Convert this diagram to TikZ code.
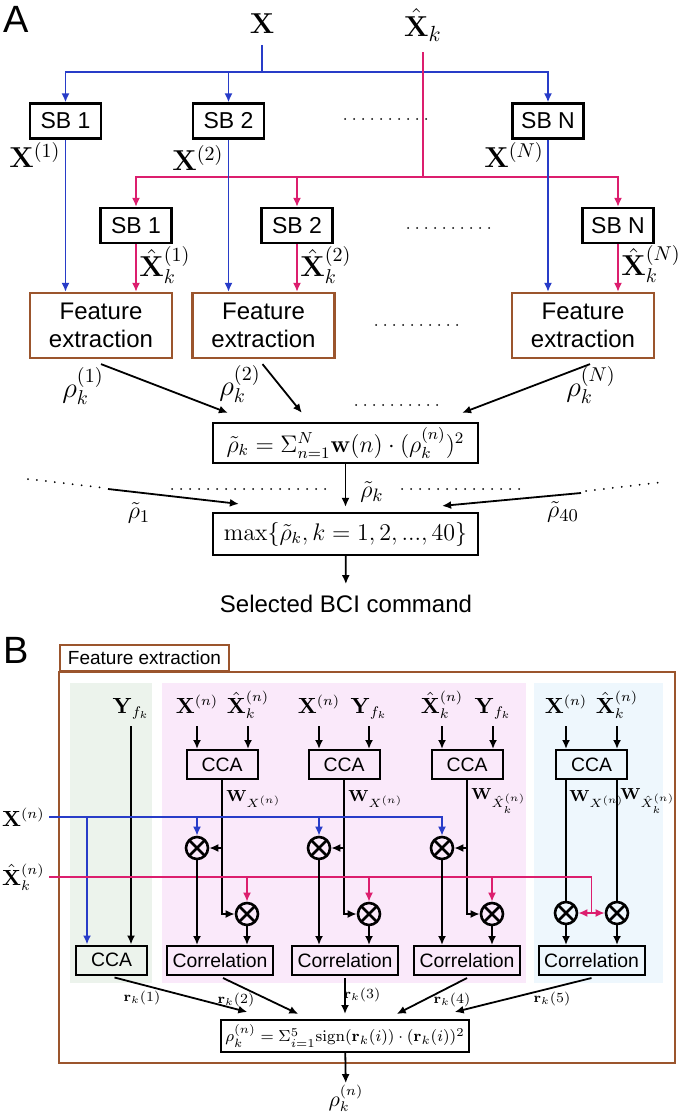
\documentclass[tikz,border=0pt]{standalone}
\usepackage[no-math]{fontspec}
\setmainfont{Liberation Sans}
\usetikzlibrary{arrows.meta,positioning}

\definecolor{sigblue}{RGB}{40,60,200}
\definecolor{sigpink}{RGB}{220,30,110}
\definecolor{febrown}{RGB}{155,85,45}
\definecolor{bggreen}{RGB}{236,243,236}
\definecolor{bgpink}{RGB}{250,233,250}
\definecolor{bgblue}{RGB}{238,247,253}

\tikzset{
  >={Latex[length=4.5pt,width=4pt]},
  wire/.style={line width=0.9pt},
  sbbox/.style={draw,line width=1.1pt,minimum width=35.5pt,minimum height=17.5pt,inner sep=1pt,font=\fontsize{11.5}{13}\selectfont},
  febox/.style={draw=febrown,line width=1.1pt,minimum width=71pt,minimum height=32.5pt,inner sep=1pt,align=center,font=\fontsize{12}{14}\selectfont},
  mathbox/.style={draw,line width=1.1pt,inner sep=1pt,minimum width=132.5pt,font=\fontsize{12}{14}\selectfont},
  biglab/.style={font=\fontsize{15}{17}\selectfont},
  lab/.style={font=\fontsize{14}{16}\selectfont},
  rholab/.style={font=\fontsize{13}{15}\selectfont},
  tag/.style={font=\fontsize{19}{21}\selectfont},
  ccabox/.style={draw,line width=1pt,minimum width=35.5pt,minimum height=14.5pt,inner sep=1pt,font=\fontsize{9.7}{11}\selectfont},
  corrbox/.style={ccabox,minimum width=53pt},
  mult/.style={circle,draw,line width=1.3pt,minimum size=11pt,inner sep=0pt,
    path picture={\draw[line width=1.3pt] (path picture bounding box.north west) -- (path picture bounding box.south east)
      (path picture bounding box.south west) -- (path picture bounding box.north east);}},
  inlab/.style={inner sep=0.5pt,font=\fontsize{10.5}{12}\selectfont},
  wlab/.style={anchor=west,inner sep=0pt,font=\fontsize{8}{9}\selectfont},
  rlab/.style={inner sep=1pt,font=\fontsize{7.5}{9}\selectfont},
  dotrow/.style={line width=1pt,line cap=round,dash pattern=on 0pt off 4.5pt},
}

\begin{document}
\begin{tikzpicture}[x=0.5pt,y=-0.5pt]
\useasboundingbox (0,0) rectangle (679,1112);

% ---------------- A ----------------
\node[tag] (tagA) at (16,19) {A};
\node[biglab] (sx) at (262,24) {$\mathbf{X}$};
\node[biglab] (sxh) at (423,25) {$\hat{\mathbf{X}}_k$};
\coordinate (bsplit) at (262,72);
\coordinate (psplit) at (423,177);

\node[sbbox] (sb1) at (65.5,121) {SB 1};
\node[sbbox] (sb2) at (228.5,121) {SB 2};
\node[sbbox] (sbn) at (548,121) {SB N};
\node[sbbox] (sbh1) at (136,225.5) {SB 1};
\node[sbbox] (sbh2) at (297,225.5) {SB 2};
\node[sbbox] (sbhn) at (618,225.5) {SB N};

\node[febox] (fe1) at (101,325.5) {Feature\\extraction};
\node[febox] (fe2) at (263.5,325.5) {Feature\\extraction};
\node[febox] (fen) at (583,325.5) {Feature\\extraction};

\draw[wire,sigblue,shorten <=2pt] (sx) -- (bsplit);
\draw[wire,sigblue,->] (bsplit) -| (sb1);
\draw[wire,sigblue,->] (bsplit) -| (sb2);
\draw[wire,sigblue,->] (bsplit) -| (sbn);
\draw[wire,sigpink,shorten <=2pt] (sxh) -- (psplit);
\draw[wire,sigpink,->] (psplit) -| (sbh1);
\draw[wire,sigpink,->] (psplit) -| (sbh2);
\draw[wire,sigpink,->] (psplit) -| (sbhn);

\draw[wire,sigblue,->] (sb1) -- (sb1 |- fe1.north);
\draw[wire,sigblue,->] (sb2) -- (sb2 |- fe2.north);
\draw[wire,sigblue,->] (sbn) -- (sbn |- fen.north);
\draw[wire,sigpink,->] (sbh1) -- (sbh1 |- fe1.north);
\draw[wire,sigpink,->] (sbh2) -- (sbh2 |- fe2.north);
\draw[wire,sigpink,->] (sbhn) -- (sbhn |- fen.north);

\node[lab] (lx1) at (35,155) {$\mathbf{X}^{(1)}$};
\node[lab] (lx2) at (198,158) {$\mathbf{X}^{(2)}$};
\node[lab] (lxn) at (514,155) {$\mathbf{X}^{(N)}$};
\node[lab] (lxh1) at (165,265) {$\hat{\mathbf{X}}_k^{(1)}$};
\node[lab] (lxh2) at (326,265) {$\hat{\mathbf{X}}_k^{(2)}$};
\node[lab] (lxhn) at (651,264) {$\hat{\mathbf{X}}_k^{(N)}$};

\draw[dotrow] (345,119) -- (428,119);
\draw[dotrow] (408,228) -- (492,228);
\draw[dotrow] (376,325) -- (458,325);

\node[mathbox,minimum height=20pt] (sum) at (345.5,443)
  {$\tilde{\rho}_k=\Sigma_{n=1}^{N}\mathbf{w}(n)\cdot(\rho_k^{(n)})^2$};
\node[mathbox,minimum height=21pt] (mx) at (345.5,534)
  {$\max\{\tilde{\rho}_k,k=1,2,...,40\}$};
\node[font=\fontsize{12}{14}\selectfont] (cmd) at (346,604) {Selected BCI command};

\draw[wire,->] ([yshift=-2.5pt]fe1.south) -- ([xshift=8pt,yshift=4.5pt]sum.north west);
\draw[wire,->] ([xshift=-0.5pt,yshift=-2.5pt]fe2.south) -- ([xshift=45pt,yshift=4.5pt]sum.north west);
\draw[wire,->] ([xshift=3.5pt,yshift=-2.5pt]fen.south) -- ([xshift=-8.5pt,yshift=4.5pt]sum.north east);
\node[lab] (rho1) at (83,386) {$\rho_k^{(1)}$};
\node[lab] (rho2) at (240,384) {$\rho_k^{(2)}$};
\node[lab] (rhon) at (591,385) {$\rho_k^{(N)}$};
\draw[dotrow] (356,405) -- (439,405);

\draw[wire,->,shorten >=2.5pt] (sum) -- (mx);
\node[rholab] (rtk) at (372,492) {$\tilde{\rho}_k$};
\coordinate (lin) at (108,489);
\coordinate (rin) at (581,493);
\draw[wire,->] (lin) -- ([xshift=13.5pt,yshift=4pt]mx.north west);
\draw[wire,->] (rin) -- ([xshift=-18.5pt,yshift=3pt]mx.north east);
\node[rholab] (rt1) at (139,513) {$\tilde{\rho}_1$};
\node[rholab] (rt40) at (563,512) {$\tilde{\rho}_{40}$};
\draw[dotrow] (28,479) -- (105,488);
\draw[dotrow] (172,489) -- (327,489);
\draw[dotrow] (402,489) -- (520,489);
\draw[dotrow] (586,491) -- (664,482);
\draw[wire,->,shorten >=2pt] (mx) -- (cmd);

% ---------------- B ----------------
\node[tag] (tagB) at (16,650) {B};
\fill[bggreen] (70,683) rectangle (152,983);
\fill[bgpink] (162,683) rectangle (526,983);
\fill[bgblue] (534,683) rectangle (663,983);
\draw[febrown,line width=1pt] (59,672) rectangle (675,1063);
\node[draw=febrown,line width=1pt,fill=white,anchor=south west,minimum width=84.5pt,
  minimum height=13pt,inner sep=1pt,font=\fontsize{9.5}{11}\selectfont] (fettl) at (59,672) {Feature extraction};

\node[inlab,anchor=base] (yg) at (131,713) {$\mathbf{Y}_{f_k}$};
\node[inlab,anchor=base] (x1) at (197,713) {$\mathbf{X}^{(n)}$};
\node[inlab,anchor=base] (xh1) at (248,713) {$\hat{\mathbf{X}}_k^{(n)}$};
\node[inlab,anchor=base] (x2) at (319,713) {$\mathbf{X}^{(n)}$};
\node[inlab,anchor=base] (y2) at (369,713) {$\mathbf{Y}_{f_k}$};
\node[inlab,anchor=base] (xh3) at (442,713) {$\hat{\mathbf{X}}_k^{(n)}$};
\node[inlab,anchor=base] (y3) at (493,713) {$\mathbf{Y}_{f_k}$};
\node[inlab,anchor=base] (x4) at (566,713) {$\mathbf{X}^{(n)}$};
\node[inlab,anchor=base] (xh4) at (617,713) {$\hat{\mathbf{X}}_k^{(n)}$};

\node[ccabox] (c1) at (222,764.5) {CCA};
\node[ccabox] (c2) at (344,764.5) {CCA};
\node[ccabox] (c3) at (467,764.5) {CCA};
\node[ccabox] (c4) at (591.5,764.5) {CCA};
\node[ccabox] (gcca) at (111.5,960) {CCA};

\draw[wire,->] (x1.base) ++(0,13) -- (x1.base |- c1.north);
\draw[wire,->] (xh1.base) ++(0,13) -- (xh1.base |- c1.north);
\draw[wire,->] (x2.base) ++(0,13) -- (x2.base |- c2.north);
\draw[wire,->] (y2.base) ++(0,13) -- (y2.base |- c2.north);
\draw[wire,->] (xh3.base) ++(0,13) -- (xh3.base |- c3.north);
\draw[wire,->] (y3.base) ++(0,13) -- (y3.base |- c3.north);
\draw[wire,->] (x4.base) ++(0,13) -- (x4.base |- c4.north);
\draw[wire,->] (xh4.base) ++(0,13) -- (xh4.base |- c4.north);
\draw[wire,->] (yg.base) ++(0,13) -- (yg.base |- gcca.north);

\node[wlab] (w1) at (226,799) {$\mathbf{W}_{X^{(n)}}$};
\node[wlab] (w2) at (348,799) {$\mathbf{W}_{X^{(n)}}$};
\node[wlab] (w3) at (471,801) {$\mathbf{W}_{\hat{X}_k^{(n)}}$};
\node[wlab] (w4a) at (569,799) {$\mathbf{W}_{X^{(n)}}$};
\node[wlab] (w4b) at (620,801) {$\mathbf{W}_{\hat{X}_k^{(n)}}$};

\node[mult] (m1a) at (197,848) {};
\node[mult] (m1b) at (247,914) {};
\node[mult] (m2a) at (319,848) {};
\node[mult] (m2b) at (369,914) {};
\node[mult] (m3a) at (442,848) {};
\node[mult] (m3b) at (492,914) {};
\node[mult] (m4a) at (566,913) {};
\node[mult] (m4b) at (617,913) {};

\node[corrbox] (r1) at (220,960.5) {Correlation};
\node[corrbox] (r2) at (345,960.5) {Correlation};
\node[corrbox] (r3) at (467,960.5) {Correlation};
\node[corrbox] (r4) at (591.5,960.5) {Correlation};

% weights
\draw[wire,->] (c1) |- (m1b);
\draw[wire,->] (c1 |- m1a) -- (m1a);
\draw[wire,->] (c2) |- (m2b);
\draw[wire,->] (c2 |- m2a) -- (m2a);
\draw[wire,->] (c3) |- (m3b);
\draw[wire,->] (c3 |- m3a) -- (m3a);
\draw[wire] (x4 |- c4.south) -- (m4a);
\draw[wire] (xh4 |- c4.south) -- (m4b);

% signals
\coordinate (xrow) at (49,817);
\coordinate (xhrow) at (49,877);
\coordinate (gin) at ([xshift=6pt]gcca.north west);
\node[inlab,anchor=east,inner sep=2pt] (xl) at (xrow) {$\mathbf{X}^{(n)}$};
\node[inlab,anchor=east,inner sep=2pt] (xhl) at (xhrow) {$\hat{\mathbf{X}}_k^{(n)}$};
\draw[wire,sigblue,->] (xrow) -| (m3a);
\draw[wire,sigblue,->] (xrow -| m1a) -- (m1a);
\draw[wire,sigblue,->] (xrow -| m2a) -- (m2a);
\draw[wire,sigblue,->] (gin |- xrow) -- (gin);
\draw[wire,sigpink] (xhrow) -| (c4 |- m4a);
\draw[wire,sigpink,<->] (m4a) -- (m4b);
\draw[wire,sigpink,->] (xhrow -| m1b) -- (m1b);
\draw[wire,sigpink,->] (xhrow -| m2b) -- (m2b);
\draw[wire,sigpink,->] (xhrow -| m3b) -- (m3b);

\draw[wire,->] (m1a) -- (m1a |- r1.north);
\draw[wire,->] (m1b) -- (m1b |- r1.north);
\draw[wire,->] (m2a) -- (m2a |- r2.north);
\draw[wire,->] (m2b) -- (m2b |- r2.north);
\draw[wire,->] (m3a) -- (m3a |- r3.north);
\draw[wire,->] (m3b) -- (m3b |- r3.north);
\draw[wire,->] (m4a) -- (m4a |- r4.north);
\draw[wire,->] (m4b) -- (m4b |- r4.north);

\node[draw,line width=1pt,inner sep=2pt,minimum width=113pt,minimum height=16pt,font=\fontsize{8}{9}\selectfont] (bsum) at (345,1036)
  {$\rho_k^{(n)}=\Sigma_{i=1}^{5}\mathrm{sign}(\mathbf{r}_k(i))\cdot(\mathbf{r}_k(i))^2$};
\draw[wire,->] ([xshift=1.5pt,yshift=-1pt]gcca.south) -- ([xshift=13.5pt,yshift=3.5pt]bsum.north west);
\draw[wire,->] ([xshift=1.5pt,yshift=-1pt]r1.south) -- ([xshift=39pt,yshift=2.5pt]bsum.north west);
\draw[wire,->] ([yshift=-1pt]r2.south) -- ([yshift=2.5pt]bsum.north);
\draw[wire,->] ([yshift=-1pt]r3.south) -- ([xshift=-36.5pt,yshift=2.5pt]bsum.north east);
\draw[wire,->] ([yshift=-1pt]r4.south) -- ([xshift=-7.5pt,yshift=3.5pt]bsum.north east);
\node[rlab] (lr1) at (142,998) {$\mathbf{r}_k(1)$};
\node[rlab] (lr2) at (236,1000) {$\mathbf{r}_k(2)$};
\node[rlab] (lr3) at (362,995) {$\mathbf{r}_k(3)$};
\node[rlab] (lr4) at (452,1000) {$\mathbf{r}_k(4)$};
\node[rlab] (lr5) at (552,999) {$\mathbf{r}_k(5)$};

\node[inlab] (fin) at (346,1098) {$\rho_k^{(n)}$};
\draw[wire,->] (bsum) -- (fin);
\end{tikzpicture}
\end{document}
